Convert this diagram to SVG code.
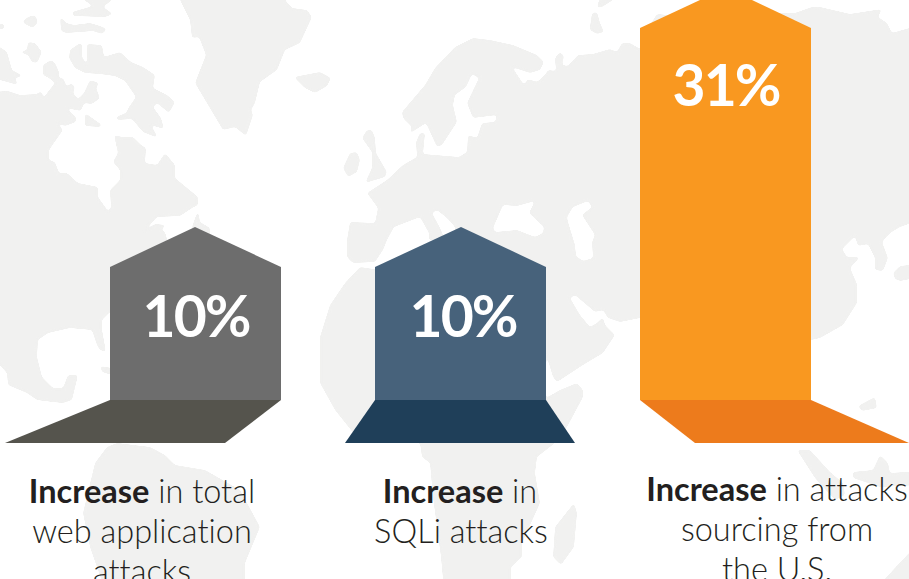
<svg xmlns="http://www.w3.org/2000/svg" width="909" height="579" viewBox="0 0 909 579">
<style>
.pct{font-family:Lato,"Open Sans",sans-serif;font-size:57px;font-weight:700;letter-spacing:-2px;fill:#fff;text-anchor:middle}
.lbl{font-family:Lato,"Open Sans",sans-serif;font-size:32.5px;font-weight:300;font-variant-ligatures:none;fill:#231f20;text-anchor:middle}
.lbl .b{font-weight:700}
</style>
<defs>
<filter id="soft" filterUnits="userSpaceOnUse" x="-30" y="-30" width="970" height="640" color-interpolation-filters="sRGB">
<feGaussianBlur stdDeviation="1.6"/>
<feComponentTransfer><feFuncA type="linear" slope="10" intercept="-4.5"/></feComponentTransfer>
</filter>
</defs>
<rect width="909" height="579" fill="#fff"/>
<g id="map" filter="url(#soft)">
<path fill="#f1f1f0" fill-rule="evenodd" d="
M-10,47 L0,47 7,52 12,70 23,76 15,78 18,85 0,80 -10,80Z
M-10,92 L8,91 20,95 37,94 41,91 44,98 47,93 55,83 49,78 43,75 43,65 51,60 55,63 59,72 59,78 63,78 67,87 71,83 75,87 73,93 78,99 84,93 90,80 99,83 96,88 100,98 92,104 84,103 81,111 66,108 76,117 76,122 65,126 57,123 63,130 49,150 49,160 55,162 59,173 67,173 78,183 98,187 98,197 108,211 111,208 110,190 120,180 120,170 113,162 118,153 114,135 122,137 133,137 141,145 146,148 145,163 157,165 165,153 175,165 175,178 198,197 198,205 192,208 180,216 157,217 143,232 155,224 166,225 161,230 165,232 170,250 200,300 110,312 102,320 102,330 106,352 100,350 97,345 92,330 70,328 48,333 38,340 37,357 42,377 53,388 63,388 68,375 78,375 72,400 63,403 53,402 37,400 27,393 8,385 7,373 -10,355Z
M192,227 L198,210 200,222 210,228 210,240 195,240Z
M100,366 L112,368 112,375 102,372Z
M22,22 L28,17 35,15 38,22 33,28 27,25Z
M-10,23 L4,24 4,29 -10,30Z
M19,52 L27,50 28,42 35,43 42,52 37,63 32,62 28,55Z
M84,-10 L84,0 93,6 72,12 73,16 105,17 113,14 103,7 112,0 112,-10Z
M60,16 L66,23 74,25 90,23 100,26 107,29 102,34 93,31 80,32 66,33 61,31Z
M80,43 L70,50 69,58 75,68 85,73 100,74 115,76 125,81 136,97 129,107 126,113 116,117 117,120 132,119 143,132 158,138 151,125 164,129 161,118 153,107 157,103 169,113 175,102 167,95 153,88 155,75 143,67 131,62 120,52 104,57 102,45 87,44 87,65 82,57 82,44Z
M85,113 L102,125 100,127 85,126Z
M180,-10 L180,0 190,20 192,38 199,37 206,55 195,83 223,130 235,127 246,136 253,115 251,110 255,103 260,82 277,70 285,50 300,43 312,17 307,10 292,8 285,0 285,-10Z
M294,77 L320,72 331,78 327,86 315,93 305,88Z
M343,168 L350,153 357,152 360,160 357,172 348,177Z
M367,130 L362,138 372,152 372,168 365,183 385,177 387,172 380,160 376,153 375,138 372,130Z
M473,38 L490,40 513,45 537,55 544,62 540,70 530,73 512,67 524,85 528,79 537,82 545,75 548,70 556,71 555,58 560,52 564,56 562,65 568,66 578,55 593,54 610,49 617,52 622,43 630,43 640,49 650,25 657,14 668,15 795,13 812,7 820,7 850,14 882,9 878,17 887,23 892,33 920,25 920,220 900,227 890,233 882,242 888,258 883,271 875,270 875,258 868,244 858,246 855,236 842,249 847,257 860,257 850,268 857,284 857,303 843,325 820,338 811,340 700,340 640,318 620,322 608,318 603,310 595,312 575,295 570,298 580,315 590,327 597,323 603,317 605,325 615,335 603,353 583,365 557,382 553,377 547,357 530,310 455,250 455,227 447,218 437,210 432,213 440,228 446,242 429,240 429,233 420,217 394,227 387,240 383,250 375,262 353,263 347,257 347,240 350,222 375,223 378,208 367,193 387,180 403,165 417,157 416,142 420,133 425,133 423,154 459,157 467,152 468,135 477,138 482,123 495,122 497,115 473,118 467,103 479,78 472,74 466,87 455,95 453,105 457,122 442,145 437,147 426,123 409,134 412,127 403,118 402,112 425,85 435,68 455,47Z
M493,228 L503,205 517,206 535,201 529,213 544,227 543,233 535,237 517,230 495,232Z
M567,217 L573,207 588,201 592,207 582,215 595,235 592,242 593,258 583,261 576,256 575,245 568,222Z
M590,27 L592,13 597,12 600,23 604,32 597,34 590,30Z
M597,8 L598,3 605,-10 620,-10 613,0 602,7Z
M893,273 L900,266 920,264 920,277 900,281 895,279Z
M858,406 L875,397 877,408 862,411Z
M360,267 L345,283 330,305 320,337 320,383 335,410 355,435 380,443 420,443 422,457 430,463 433,497 441,557 444,590 511,590 511,567 522,557 522,543 540,503 535,473 537,457 555,443 567,427 583,397 583,390 577,383 560,390 546,398 546,300 380,270Z
M574,503 L577,513 574,547 561,565 553,557 555,527Z
M117,443 L150,447 165,455 175,465 205,470 240,490 260,527 245,563 245,590 105,590 90,547 83,513 95,463 107,447Z
M797,450 L810,450 830,472 843,483 845,495 835,500 815,478Z
M853,472 L873,470 880,455 888,463 890,473 920,471 920,485 880,487 853,478Z
M875,590 L893,570 909,553 920,545 920,590Z
"/>
</g>
<g id="connectors"></g>
<g id="node-total">
<path fill="#6d6d6d" d="M110,267 195,227 281,267V400H110Z"/>
<path fill="#55544d" d="M110,400H281L225,443H5Z"/>
<text class="pct" x="196" y="337">10%</text>
<text class="lbl" x="142" y="503"><tspan class="b">Increase</tspan> in total</text>
<text class="lbl" x="142" y="543">web application</text>
<text class="lbl" x="142" y="583">attacks</text>
</g>
<g id="node-sqli">
<path fill="#47627b" d="M375,267 461,227 546,267V400H375Z"/>
<path fill="#1f3f59" d="M375,400H546L575,443H345Z"/>
<text class="pct" x="463" y="337">10%</text>
<text class="lbl" x="460" y="503"><tspan class="b">Increase</tspan> in</text>
<text class="lbl" x="461" y="543">SQLi attacks</text>
</g>
<g id="node-us">
<path fill="#f99820" d="M640,28 700,0H752L811,28V400H640Z"/>
<path fill="#ed7b1c" d="M640,400H811L909,443H695Z"/>
<text class="pct" x="726" y="106">31%</text>
<text class="lbl" x="777" y="501"><tspan class="b">Increase</tspan> in attacks</text>
<text class="lbl" x="777" y="541">sourcing from</text>
<text class="lbl" x="777" y="581">the U.S.</text>
</g>
</svg>
